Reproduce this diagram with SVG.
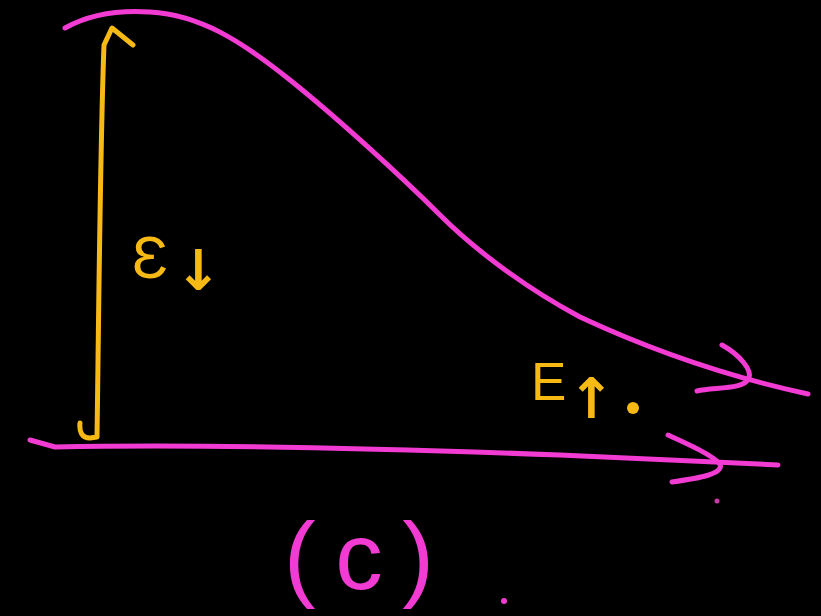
<svg xmlns="http://www.w3.org/2000/svg" width="821" height="616" viewBox="0 0 821 616">
<style>
.pk{fill:none;stroke:#f23bd2;stroke-width:5;stroke-linecap:round;stroke-linejoin:round}
.yl{fill:none;stroke:#f7b914;stroke-width:5;stroke-linecap:round;stroke-linejoin:round}
.ty{fill:#f7b914}
.tp{fill:#f23bd2;font-family:"Liberation Sans",Arial,sans-serif}
.ar{font-family:"DejaVu Sans",sans-serif;font-weight:bold}
.lt{font-family:"Liberation Sans",Arial,sans-serif}
</style>
<rect width="821" height="616" fill="#000"/>
<g id="connectors">
<path id="curve" class="pk" d="M65,28 C90,14 120,10 150,12 C200,15 240,40 290,80 C340,120 405,180 440,215 C470,245 520,285 580,317 C640,345 720,375 808,394"/>
<path id="curve-head" class="pk" d="M722,345 C740,355 752,370 749,378 C744,390 715,387 697,391"/>
<path id="axis" class="pk" d="M30,440 L55,447 C200,444 400,449 560,455 C650,459 720,462 778,465"/>
<path id="axis-head" class="pk" d="M668,435 C690,445 712,455 720,464 C724,474 700,478 672,482"/>
<path id="vertical" class="yl" d="M80,423 C79,432 82,438 90,438 L97,437 C99,300 100,150 104,45 L112,28 L133,45"/>
</g>
<g id="label-eps">
<text class="ty" x="132" y="278"><tspan class="lt" font-size="60">Ɛ</tspan><tspan class="ar" font-size="56" x="175" y="290">↓</tspan></text>
</g>
<g id="label-E">
<text class="ty" x="531" y="400"><tspan class="lt" font-size="53">E</tspan><tspan class="ar" font-size="56" x="568" y="418">↑</tspan></text>
<circle cx="633" cy="408" r="6" fill="#f7b914"/>
</g>
<g id="label-c">
<text class="tp" x="284" y="589" font-size="95" textLength="150" lengthAdjust="spacing">(c)</text>
<circle cx="504" cy="601" r="3" fill="#f23bd2"/>
<circle cx="717" cy="501" r="2.5" fill="#c83aa8"/>
</g>
</svg>
